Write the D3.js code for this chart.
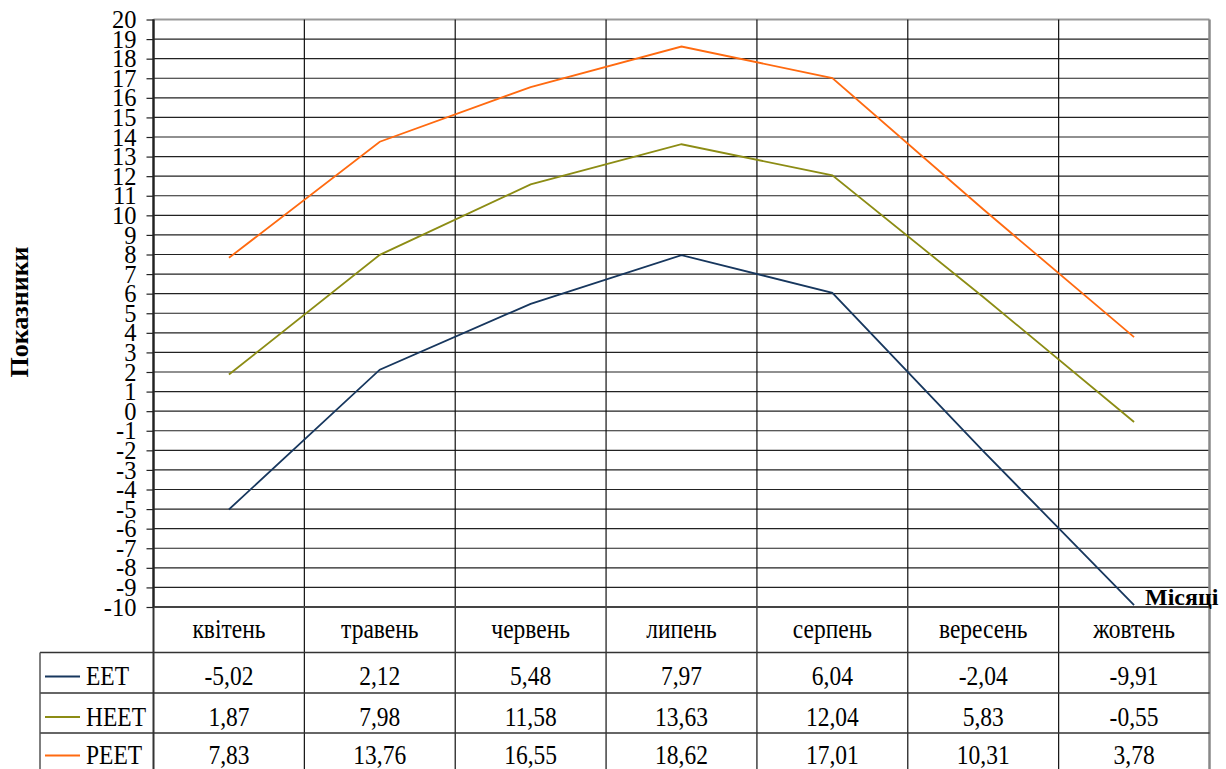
<!DOCTYPE html>
<html><head><meta charset="utf-8">
<script src="https://cdn.jsdelivr.net/npm/d3@7"></script>
<style>body{margin:0;background:#fff}svg{display:block}</style>
</head><body><svg id="c" width="1226" height="769"></svg>
<script>
const months = ["квітень","травень","червень","липень","серпень","вересень","жовтень"];
const seriesNames = ["EET","HEET","PEET"];
const EET = [-5.02, 2.12, 5.48, 7.97, 6.04, -2.04, -9.91];
const HEET = [1.87, 7.98, 11.58, 13.63, 12.04, 5.83, -0.55];
const PEET = [7.83, 13.76, 16.55, 18.62, 17.01, 10.31, 3.78];
const colors = ["#17375E", "#8C8C14", "#FF6A10"];
const yTicks = d3.range(-10, 21, 1);

const seriesVals = [EET, HEET, PEET];
const svg = d3.select("#c");
const L = 153.5, R = 1209.5, T = 19.5, B = 607;
const FF = "Liberation Serif";
const TS = 23.5, STRETCH = 1.18;

const x = d3.scaleBand().domain(months).range([L, R]);
const y = d3.scaleLinear().domain([-10, 20]).range([B, T]);

// horizontal gridlines
svg.append("g").selectAll("line").data(yTicks.filter(d => d > -10)).join("line")
  .attr("x1", L).attr("x2", R).attr("y1", d => y(d)).attr("y2", d => y(d))
  .attr("stroke", d => d === 20 ? "#999" : "#222").attr("stroke-width", d => d === 20 ? 2 : 1.2);

// table geometry
const rowTops = [607, 652.5, 693, 733, 774];
const legL = 40;

// vertical lines (category boundaries) through plot and table
const bounds = months.map(m => x(m)).concat([R]);
svg.append("g").selectAll("line").data(bounds).join("line")
  .attr("x1", d => d).attr("x2", d => d).attr("y1", T).attr("y2", 769)
  .attr("stroke", (d, i) => i === bounds.length - 1 ? "#888" : (i === 0 ? "#333" : "#111"))
  .attr("stroke-width", (d, i) => i === bounds.length - 1 ? 2.5 : (i === 0 ? 2 : 1.2));

// table horizontal lines
svg.append("g").selectAll("line").data(rowTops.slice(1, 4)).join("line")
  .attr("x1", legL).attr("x2", R).attr("y1", d => d).attr("y2", d => d)
  .attr("stroke", "#333").attr("stroke-width", 1.5);
svg.append("line").attr("x1", legL).attr("x2", legL).attr("y1", rowTops[1]).attr("y2", 769)
  .attr("stroke", "#555").attr("stroke-width", 1.5);
// bottom axis line at -10
svg.append("line").attr("x1", L).attr("x2", R).attr("y1", B).attr("y2", B)
  .attr("stroke", "#444").attr("stroke-width", 2);

// y axis ticks and labels
const yAxis = d3.axisLeft(y).tickValues(yTicks).tickSize(7).tickFormat(d3.format("d"));
const ga = svg.append("g").attr("transform", `translate(${L},0)`).call(yAxis);
ga.select(".domain").remove();
ga.selectAll(".tick line").attr("stroke", "#222").attr("stroke-width", 1.2);
ga.selectAll(".tick text").style("font-family", FF).style("font-size", "24.5px")
  .attr("fill", "#000").attr("x", -17).attr("dy", "0.33em")
  .text(d => d < 0 ? "-" + Math.abs(d) : d);
svg.append("line").attr("x1", L).attr("x2", L).attr("y1", T).attr("y2", B).attr("stroke", "#222").attr("stroke-width", 2);

// lines
const line = d3.line().x((d, i) => x(months[i]) + x.bandwidth() / 2).y(d => y(d));
svg.append("g").selectAll("path").data(seriesVals).join("path")
  .attr("d", d => line(d)).attr("fill", "none")
  .attr("stroke", (d, i) => colors[i]).attr("stroke-width", 1.8);

// category row
const catBase = (rowTops[0] + rowTops[1]) / 2 + 8.3;
svg.append("g").selectAll("text").data(months).join("text")
  .attr("transform", d => `translate(${x(d) + x.bandwidth() / 2},${catBase}) scale(1,${STRETCH})`)
  .attr("text-anchor", "middle").style("font-family", FF).style("font-size", TS + "px").text(d => d);

// data rows
seriesVals.forEach((vals, si) => {
  const base = Math.min(rowTops[si + 1] + 32.5, 764);
  svg.append("g").selectAll("text").data(vals).join("text")
    .attr("transform", (d, i) => `translate(${x(months[i]) + x.bandwidth() / 2},${base}) scale(1,${STRETCH})`)
    .attr("text-anchor", "middle").style("font-family", FF).style("font-size", TS + "px")
    .text(d => d.toFixed(2).replace(".", ","));
  svg.append("line").attr("x1", 45).attr("x2", 80).attr("y1", base - 8.5).attr("y2", base - 8.5)
    .attr("stroke", colors[si]).attr("stroke-width", 2);
  svg.append("text").attr("transform", `translate(86,${base}) scale(1,${STRETCH})`)
    .style("font-family", FF).style("font-size", TS + "px").text(seriesNames[si]);
});

// axis titles
svg.append("text").attr("transform", "translate(28,312) rotate(-90)")
  .attr("text-anchor", "middle").style("font-family", FF).style("font-size", "26px")
  .style("font-weight", "bold").text("Показники");
svg.append("text").attr("x", 1145).attr("y", 605).style("font-family", FF).style("font-size", "24px")
  .style("font-weight", "bold").text("Місяці");
</script></body></html>
